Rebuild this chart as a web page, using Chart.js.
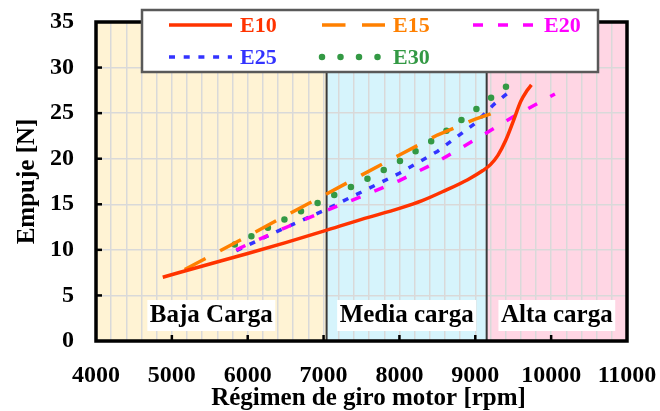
<!DOCTYPE html>
<html>
<head>
<meta charset="utf-8">
<script src="https://cdn.jsdelivr.net/npm/chart.js@4.4.1/dist/chart.umd.min.js"></script>
<style>
    html, body { margin: 0; padding: 0; background: #fff; }
    #wrap { width: 660px; height: 411px; }
</style>
</head>
<body>
<div id="wrap"><canvas id="chart"></canvas></div>
<script>
// Empuje vs régimen de giro, one curve per blend
const rpmE10 = [4880, 5500, 6000, 6500, 7000, 7500, 8000, 8300, 8600, 8900, 9100, 9200, 9300, 9400, 9500, 9600, 9680, 9740];
const thrustE10 = [7.0, 8.45, 9.6, 10.8, 12.05, 13.35, 14.55, 15.4, 16.5, 17.7, 18.7, 19.35, 20.4, 22.0, 24.1, 26.3, 27.45, 28.1];

const rpmE15 = [5170, 5500, 6000, 6500, 7000, 7500, 8000, 8500, 9000, 9300];
const thrustE15 = [7.85, 9.3, 11.5, 13.75, 15.95, 18.2, 20.4, 22.6, 24.35, 25.2];

const rpmE20 = [5850, 6000, 6500, 7000, 7500, 8000, 8500, 9000, 9500, 10050];
const thrustE20 = [10.0, 10.6, 12.45, 14.2, 15.85, 17.6, 19.65, 22.1, 24.6, 27.1];

const rpmE25 = [5850, 6000, 6500, 7000, 7500, 8000, 8500, 9000, 9250, 9420];
const thrustE25 = [9.9, 10.5, 12.45, 14.3, 16.35, 18.4, 20.8, 23.9, 26.0, 27.15];

const rpmE30 = [5830, 6000, 6500, 7000, 7500, 8000, 8500, 9000, 9250, 9440];
const thrustE30 = [10.6, 11.3, 13.4, 15.45, 17.45, 19.7, 22.35, 25.35, 26.95, 28.1];

// load zones
const zoneEdges = [4000, 7040, 9150, 11000];
const zoneLabels = ['Baja Carga', 'Media carga', 'Alta carga'];
const zoneColors = ['#FFF3D4', '#D6F4FC', '#FFD6E4'];

const xTitle = 'Régimen de giro motor [rpm]';
const serif = "'Liberation Serif', 'Times New Roman', serif";

function pts(xs, ys) {
    return xs.map((x, i) => ({ x: x, y: ys[i] }));
}

const zonesPlugin = {
    id: 'zones',
    beforeDraw(chart) {
        const { ctx, chartArea: a, scales: { x } } = chart;
        ctx.save();
        for (let i = 0; i < zoneColors.length; i++) {
            const x0 = x.getPixelForValue(zoneEdges[i]);
            const x1 = x.getPixelForValue(zoneEdges[i + 1]);
            ctx.fillStyle = zoneColors[i];
            ctx.fillRect(x0, a.top, x1 - x0, a.bottom - a.top);
        }
        ctx.restore();
    },
    beforeDatasetsDraw(chart) {
        const { ctx, chartArea: a, scales: { x } } = chart;
        ctx.save();
        ctx.strokeStyle = '#3a3a3a';
        ctx.lineWidth = 2;
        for (let i = 1; i < zoneEdges.length - 1; i++) {
            const px = x.getPixelForValue(zoneEdges[i]);
            ctx.beginPath();
            ctx.moveTo(px, a.top);
            ctx.lineTo(px, a.bottom);
            ctx.stroke();
        }
        ctx.restore();
    },
    afterDatasetsDraw(chart) {
        const { ctx, chartArea: a, scales: { x, y } } = chart;
        ctx.save();
        // tick marks pointing inward
        ctx.strokeStyle = '#000';
        ctx.lineWidth = 2.5;
        for (let v = 5000; v < 11000; v += 1000) {
            const px = x.getPixelForValue(v);
            ctx.beginPath();
            ctx.moveTo(px, a.bottom);
            ctx.lineTo(px, a.bottom - 6);
            ctx.stroke();
        }
        for (let v = 5; v < 35; v += 5) {
            const py = y.getPixelForValue(v);
            ctx.beginPath();
            ctx.moveTo(a.left, py);
            ctx.lineTo(a.left + 6, py);
            ctx.stroke();
        }
        // frame
        ctx.lineWidth = 3.5;
        ctx.strokeRect(a.left, a.top, a.right - a.left, a.bottom - a.top);

        // zone labels on white boxes
        ctx.font = 'bold 25px ' + serif;
        ctx.textAlign = 'center';
        ctx.textBaseline = 'alphabetic';
        for (let i = 0; i < zoneLabels.length; i++) {
            const cx = (x.getPixelForValue(zoneEdges[i]) + x.getPixelForValue(zoneEdges[i + 1])) / 2;
            const w = ctx.measureText(zoneLabels[i]).width + 5;
            ctx.fillStyle = '#fff';
            ctx.fillRect(cx - w / 2, 300, w, 31);
            ctx.fillStyle = '#000';
            ctx.fillText(zoneLabels[i], cx, 322);
        }

        // x axis title, sits a bit right of centre in the original
        ctx.font = 'bold 25px ' + serif;
        ctx.fillText(xTitle, (a.left + a.right) / 2 + 7, 405);
        ctx.restore();
    },
    afterDraw(chart) {
        const { ctx } = chart;
        ctx.save();
        ctx.fillStyle = '#fff';
        ctx.fillRect(142, 10, 456, 62);
        ctx.strokeStyle = '#595959';
        ctx.lineWidth = 2.5;
        ctx.strokeRect(142, 10, 456, 62);

        const slots = [[169, 25], [322, 25], [473, 25], [169, 57], [322, 57]];
        ctx.font = 'bold 22px ' + serif;
        ctx.textBaseline = 'middle';
        ctx.textAlign = 'left';
        chart.data.datasets.forEach((ds, i) => {
            const [sx, sy] = slots[i];
            ctx.strokeStyle = ds.borderColor;
            ctx.lineWidth = ds.borderWidth;
            ctx.lineCap = ds.borderCapStyle || 'butt';
            ctx.setLineDash(ds.borderDash || []);
            ctx.beginPath();
            ctx.moveTo(sx, sy);
            ctx.lineTo(sx + 63, sy);
            ctx.stroke();
            ctx.setLineDash([]);
            ctx.fillStyle = ds.borderColor;
            ctx.fillText(ds.label, sx + 71, sy + 1);
        });
        ctx.restore();
    }
};

const ctx = document.getElementById('chart');
new Chart(ctx, {
    type: 'line',
    data: {
        datasets: [
            {
                label: 'E10',
                data: pts(rpmE10, thrustE10),
                borderColor: '#FF3300',
                borderWidth: 3.5,
                cubicInterpolationMode: 'monotone',
                pointRadius: 0
            },
            {
                label: 'E15',
                data: pts(rpmE15, thrustE15),
                borderColor: '#FF8000',
                borderWidth: 3.5,
                borderDash: [23.5, 16.5],
                pointRadius: 0
            },
            {
                label: 'E20',
                data: pts(rpmE20, thrustE20),
                borderColor: '#FF00FF',
                borderWidth: 3.5,
                borderDash: [10, 15],
                pointRadius: 0
            },
            {
                label: 'E25',
                data: pts(rpmE25, thrustE25),
                borderColor: '#3333FF',
                borderWidth: 3.5,
                borderDash: [6, 8.7],
                pointRadius: 0
            },
            {
                label: 'E30',
                data: pts(rpmE30, thrustE30),
                borderColor: '#339944',
                borderWidth: 6.5,
                borderDash: [0, 18.5],
                borderCapStyle: 'round',
                pointRadius: 0
            }
        ]
    },
    options: {
        responsive: true,
        maintainAspectRatio: false,
        animation: false,
        layout: { padding: { top: 22, right: 33, left: 0, bottom: 0 } },
        plugins: {
            legend: { display: false },
            tooltip: { enabled: false }
        },
        scales: {
            x: {
                type: 'linear',
                min: 4000,
                max: 11000,
                afterFit: s => { s.height = 70; s.paddingLeft = 0; s.paddingRight = 0; },
                grid: { color: '#D9D9D9', lineWidth: 1.5, drawTicks: false },
                border: { display: false },
                ticks: {
                    stepSize: 200,
                    autoSkip: false,
                    maxRotation: 0,
                    padding: 20,
                    color: '#000',
                    font: { family: serif, weight: 'bold', size: 24 },
                    callback: v => (v % 1000 === 0 ? v : '')
                },
                title: { display: false }
            },
            y: {
                min: 0,
                max: 35,
                afterFit: s => { s.width = 96; s.paddingTop = 0; s.paddingBottom = 0; },
                grid: { color: '#D9D9D9', lineWidth: 1.5, drawTicks: false },
                border: { display: false },
                ticks: {
                    stepSize: 5,
                    padding: 22,
                    color: '#000',
                    font: { family: serif, weight: 'bold', size: 24 }
                },
                title: {
                    display: true,
                    text: 'Empuje [N]',
                    color: '#000',
                    padding: { top: 13, bottom: 0 },
                    font: { family: serif, weight: 'bold', size: 25 }
                }
            }
        }
    },
    plugins: [zonesPlugin]
});
</script>
</body>
</html>
